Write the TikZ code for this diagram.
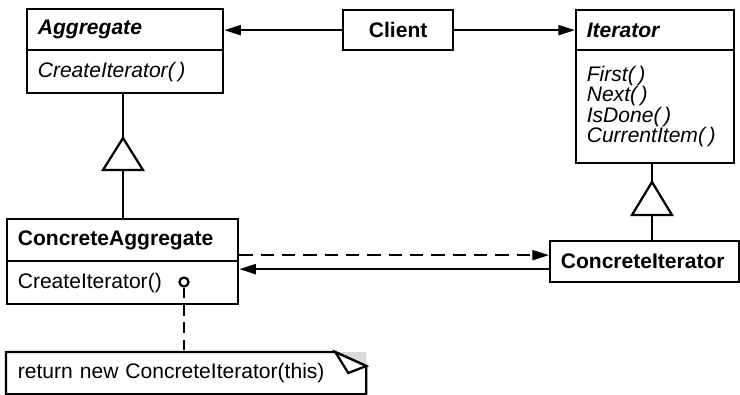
\documentclass[tikz,border=0pt]{standalone}
\usepackage{fontspec}
\setmainfont{Liberation Sans}
\usetikzlibrary{arrows.meta, positioning, calc}

\begin{document}
\begin{tikzpicture}[x=0.75pt, y=-0.75pt, >={Triangle[length=12.5pt, width=7.5pt]},
      line width=1.7pt,
      every node/.style={font=\fontsize{15.8}{15.4}\selectfont},
      umlbox/.style={draw, anchor=north west, inner xsep=8pt, inner ysep=0pt,
        align=left},
      dep/.style={dash pattern=on 10pt off 6pt}]
    \useasboundingbox (0,0) rectangle (740,394);
    % abstract classes
    \node[umlbox, minimum width=196*0.75pt, minimum height=41*0.75pt,
      text width=196*0.75pt-16pt] (agg) at (26,8) {\textbf{\textit{Aggregate}}};
    \node[umlbox, minimum width=196*0.75pt, minimum height=43*0.75pt,
      text width=196*0.75pt-16pt] (aggops) at (26,49) {\textit{CreateIterator(\,)}};
    \node[umlbox, minimum width=158*0.75pt, minimum height=40*0.75pt,
      text width=158*0.75pt-16pt] (iter) at (575,9) {\textbf{\textit{Iterator}}};
    \node[umlbox, minimum width=158*0.75pt, minimum height=113*0.75pt,
      text width=158*0.75pt-16pt] (iterops) at (575,49)
      {\textit{First(\,)}\\ \textit{Next(\,)}\\ \textit{IsDone(\,)}\\
       \textit{CurrentItem(\,)}};
    \node[draw, minimum width=110*0.75pt, minimum height=40*0.75pt,
      anchor=north west] (client) at (342,9) {\textbf{Client}};
    % concrete classes
    \node[umlbox, minimum width=231*0.75pt, minimum height=42*0.75pt,
      text width=231*0.75pt-16pt] (caggh) at (6,218) {\textbf{ConcreteAggregate}};
    \node[umlbox, minimum width=231*0.75pt, minimum height=43*0.75pt,
      text width=231*0.75pt-16pt] (caggops) at (6,260) {CreateIterator()};
    \node[umlbox, minimum width=189*0.75pt, minimum height=41*0.75pt,
      text width=189*0.75pt-16pt] (citer) at (549,240) {\textbf{ConcreteIterator}};
    % client associations
    \draw[->] (client.west) -- (client.west -| agg.east);
    \draw[->] (client.east) -- (client.east -| iter.west);
    % inheritance
    \coordinate (aggtip) at (123,138);
    \coordinate (aggbase) at (123,170);
    \draw (aggtip) -- +(-20,32) -- +(20,32) -- cycle;
    \draw (aggtip |- aggops.south) -- (aggtip);
    \draw (aggbase) -- (aggbase |- caggh.north);
    \coordinate (ittip) at (652,182);
    \coordinate (itbase) at (652,215);
    \draw (ittip) -- +(-20,33) -- +(20,33) -- cycle;
    \draw (ittip |- iterops.south) -- (ittip);
    \draw (itbase) -- (itbase |- citer.north);
    % creates / refers
    \coordinate (d1) at ($(citer.west)+(0,-6.5)$);
    \coordinate (d2) at ($(citer.west)+(0,7.5)$);
    \draw[dep, ->] (d1 -| caggh.east) -- (d1);
    \draw[->] (d2) -- (d2 -| caggops.east);
    % note
    \node[anchor=north west, minimum width=358*0.75pt, minimum height=40*0.75pt,
      text width=358*0.75pt-16pt, inner xsep=8pt, inner ysep=0pt]
      (note) at (6,352) {return new ConcreteIterator(this)};
    \fill[black!15] ($(note.north east)+(-31,0)$) -- (note.north east)
      -- ($(note.north east)+(0,14)$) -- cycle;
    \draw (note.north west) -- ($(note.north east)+(-31,0)$)
      -- ($(note.north east)+(0,14)$) -- (note.south east)
      -- (note.south west) -- cycle;
    \draw[fill=white] ($(note.north east)+(-31,0)$) -- ($(note.north east)+(-18,21)$)
      -- ($(note.north east)+(0,14)$) -- cycle;
    \node[circle, draw, fill=white, inner sep=0pt, minimum size=9*0.75pt]
      (dot) at (184,282) {};
    \draw[dash pattern=on 8pt off 5pt] (dot.south) -- (dot |- note.north);
  \end{tikzpicture}
\end{document}
